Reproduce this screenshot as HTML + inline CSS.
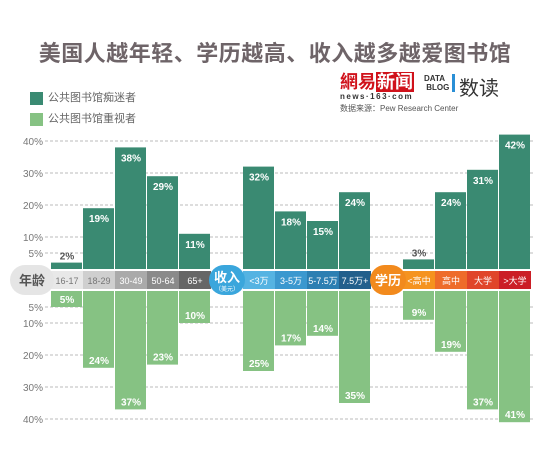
<!DOCTYPE html>
<html><head><meta charset="utf-8"><style>
body{margin:0;width:550px;height:450px;background:#fff;overflow:hidden;font-family:"Liberation Sans","Noto Sans CJK SC",sans-serif;position:relative}
.abs{position:absolute}
</style></head><body>
<div class="abs" style="left:0;width:550px;top:36px;text-align:center;font-size:22px;font-weight:bold;color:#6e6468;letter-spacing:0.5px">美国人越年轻、学历越高、收入越多越爱图书馆</div>
<div class="abs" style="left:30px;top:92px;font-size:11px;color:#666;line-height:13px"><span style="display:inline-block;width:13px;height:13px;background:#3a8a72;vertical-align:top;margin-right:5px"></span>公共图书馆痴迷者</div>
<div class="abs" style="left:30px;top:113px;font-size:11px;color:#666;line-height:13px"><span style="display:inline-block;width:13px;height:13px;background:#86c283;vertical-align:top;margin-right:5px"></span>公共图书馆重视者</div>
<div class="abs" style="left:340px;top:72px;font-size:18px;font-weight:bold;color:#d0121b;line-height:20px">網易<span style="background:#d0121b;color:#fff;padding:0 1px">新闻</span><div style="font-size:8px;color:#333;letter-spacing:1.5px;line-height:10px">news·163·com</div></div>
<div class="abs" style="left:424px;top:74px;font-size:8px;font-weight:bold;color:#333;line-height:9px;border-right:3px solid #2a8fd6;padding-right:3px">DATA<br>&nbsp;BLOG</div>
<div class="abs" style="left:459px;top:72px;font-size:20px;color:#333">数读</div>
<div class="abs" style="left:340px;top:103px;font-size:8px;color:#555">数据来源：Pew Research Center</div>
<svg class="abs" style="left:0;top:0" width="550" height="450" id="chart"></svg>
<script>
const groups=["age","income","edu"];
const ageCats=["16-17","18-29","30-49","50-64","65+"];
const ageFans=[2,19,38,29,11];
const ageVals=[5,24,37,23,10];
const incCats=["<3万","3-5万","5-7.5万","7.5万+"];
const incFans=[32,18,15,24];
const incVals=[25,17,14,35];
const eduCats=["<高中","高中","大学",">大学"];
const eduFans=[3,24,31,42];
const eduVals=[9,19,37,41];
const topTicks=[5,10,20,30,40];
const botTicks=[5,10,20,30,40];
const NS="http://www.w3.org/2000/svg";
const svg=document.getElementById('chart');
const k=3.2, top0=269, bot0=291, bw=32;
const yTop=v=>top0-v*k, yBot=v=>bot0+v*k;
function mk(t,a,txt){const e=document.createElementNS(NS,t);for(const n in a)e.setAttribute(n,a[n]);if(txt!==undefined)e.textContent=txt;svg.appendChild(e);return e;}
topTicks.forEach(t=>{
 let l=mk('line',{x1:45,x2:535,y1:yTop(t),y2:yTop(t),stroke:'#bbb','stroke-dasharray':'3,2'});
 
 let s=mk('text',{x:43,y:yTop(t)+4,'text-anchor':'end','font-size':10,fill:'#777'},t+'%');
 
});
botTicks.forEach(t=>{
 let l=mk('line',{x1:45,x2:535,y1:yBot(t),y2:yBot(t),stroke:'#bbb','stroke-dasharray':'3,2'});
 
 let s=mk('text',{x:43,y:yBot(t)+4,'text-anchor':'end','font-size':10,fill:'#777'},t+'%');
 
});
function group(x0,cats,fans,vals,colors,txtColors,label,labColor,labTxt,sub){
 cats.forEach((c,i)=>{
  const x=x0+i*bw;
  let r=mk('rect',{x:x,y:yTop(fans[i]),width:bw-1,height:fans[i]*k,fill:'#3a8a72'});
  
  const small=fans[i]<5;
  let t=mk('text',{x:x+bw/2,y:small?yTop(fans[i])-3:yTop(fans[i])+14,'text-anchor':'middle','font-size':10,'font-weight':'bold',fill:small?'#555':'#fff'},fans[i]+'%');
  
  let r2=mk('rect',{x:x,y:bot0,width:bw-1,height:vals[i]*k,fill:'#86c283'});
  
  let t2=mk('text',{x:x+bw/2,y:yBot(vals[i])-4,'text-anchor':'middle','font-size':10,'font-weight':'bold',fill:'#fff'},vals[i]+'%');
  
  let b=mk('rect',{x:x,y:top0+2,width:bw,height:18,fill:colors[i]});
  
  let bt=mk('text',{x:x+bw/2,y:top0+15,'text-anchor':'middle','font-size':9,fill:txtColors[i]},c);
  
 });
}
group(51,ageCats,ageFans,ageVals,['#e8e8e8','#cfcfcf','#aaaaaa','#8a8a8a','#666'],['#777','#777','#fff','#fff','#fff']);
group(243,incCats,incFans,incVals,['#55b3e2','#3b98cf','#2c7fb2','#225f8c'],['#fff','#fff','#fff','#fff']);
group(403,eduCats,eduVals.map((_,i)=>eduFans[i]),eduVals,['#f5931f','#ee6c2a','#e0452a','#cb1e26'],['#fff','#fff','#fff','#fff']);
function pill(cx,w,color,txt,tc,sub){
 let r=mk('rect',{x:cx-w/2,y:top0-4,width:w,height:30,rx:15,fill:color});
 
 let t=mk('text',{x:cx,y:sub?top0+13:top0+16,'text-anchor':'middle','font-size':13,'font-weight':'bold',fill:tc},txt);
 
 if(sub){let s=mk('text',{x:cx,y:top0+22,'text-anchor':'middle','font-size':6,fill:tc},sub);
 }
}
pill(32,44,'#e5e5e5','年龄','#555');
pill(227,36,'#3aa6dc','收入','#fff','（美元）');
pill(388,36,'#f28a1d','学历','#fff');
</script>
</body></html>
